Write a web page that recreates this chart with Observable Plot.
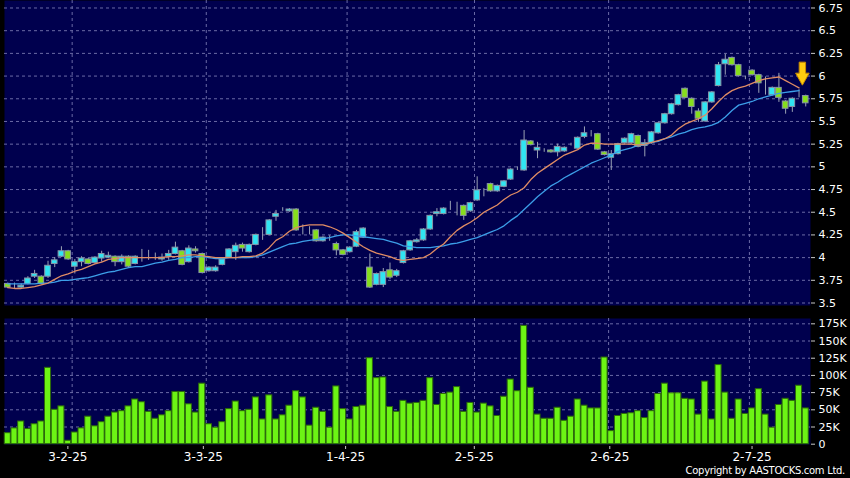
<!DOCTYPE html>
<html><head><meta charset="utf-8">
<script src="https://cdn.jsdelivr.net/npm/d3@7"></script>
<script src="https://cdn.jsdelivr.net/npm/@observablehq/plot@0.6"></script>
<style>
body{margin:0;background:#000;}
#wrap{position:relative;width:850px;height:478px;background:#000;overflow:hidden;font-family:"DejaVu Sans",sans-serif;}
.pane{position:absolute;left:0;}
#copy{position:absolute;right:5px;top:465px;color:#fff;font:10px "DejaVu Sans",sans-serif;letter-spacing:-0.3px;white-space:nowrap;}
</style></head><body>
<div id="wrap">
  <div id="price" class="pane" style="top:0"></div>
  <div id="vol" class="pane" style="top:318px"></div>
  <div id="axis" class="pane" style="top:444px"></div>
  <div id="copy">Copyright by AASTOCKS.com Ltd.</div>
</div>
<script>
// ---- data ----
const open  = [3.71,3.68,3.67,3.71,3.79,3.79,3.79,3.93,4.01,4.07, 3.90,3.95,3.98,3.94,3.99,4.00,4.01,3.95,4.01,3.93,
               4.01,4.03,4.01,3.98,4.01,4.04,4.07,3.95,4.09,4.04, 3.85,3.85,3.92,4.00,4.06,4.14,4.06,4.14,4.26,4.25,
               4.45,4.53,4.51,4.53,4.305,4.30,4.30,4.18,4.215,4.15, 4.08,4.06,4.12,4.22,3.89,3.70,3.70,3.86,3.80,3.94,
               4.08,4.17,4.19,4.31,4.48,4.48,4.57,4.57,4.57,4.51, 4.63,4.73,4.81,4.73,4.78,4.86,4.98,4.96,5.28,5.18,
               5.18,5.18,5.16,5.17,5.245,5.20,5.33,5.38,5.36,5.16, 5.10,5.14,5.26,5.26,5.34,5.23,5.26,5.37,5.48,5.58,
               5.68,5.86,5.75,5.61,5.50,5.71,5.89,6.13,6.20,6.12, 5.98,6.06,6.01,5.80,5.79,5.87,5.72,5.66,5.79,5.78];
const high  = [3.72,3.72,3.71,3.79,3.86,3.80,3.96,4.00,4.12,4.08, 3.98,4.01,3.99,4.01,4.07,4.06,4.02,4.03,4.02,4.02,
               4.09,4.08,4.05,4.04,4.08,4.17,4.08,4.13,4.12,4.05, 3.90,3.91,3.99,4.10,4.16,4.16,4.15,4.26,4.33,4.42,
               4.52,4.55,4.54,4.54,4.36,4.34,4.31,4.23,4.24,4.17, 4.09,4.12,4.30,4.33,4.04,3.83,3.88,3.94,3.87,4.08,
               4.19,4.21,4.32,4.47,4.54,4.55,4.62,4.61,4.58,4.61, 4.89,4.76,4.82,4.80,4.85,4.98,5.00,5.40,5.29,5.27,
               5.20,5.19,5.25,5.22,5.26,5.33,5.44,5.40,5.37,5.17, 5.18,5.26,5.32,5.37,5.35,5.30,5.39,5.49,5.59,5.70,
               5.80,5.87,5.76,5.64,5.72,5.83,6.15,6.24,6.21,6.13, 6.00,6.07,6.02,5.99,5.88,6.03,5.73,5.76,5.85,5.79];
const low   = [3.66,3.66,3.66,3.70,3.77,3.70,3.77,3.89,4.00,3.97, 3.82,3.90,3.92,3.93,3.95,3.99,3.90,3.92,3.89,3.92,
               3.95,3.97,3.97,3.96,3.97,4.03,3.91,3.94,4.05,3.82, 3.84,3.84,3.91,3.99,3.97,4.06,4.05,4.13,4.19,4.24,
               4.40,4.51,4.50,4.29,4.25,4.25,4.17,4.17,4.18,4.02, 4.02,4.05,4.11,4.21,3.66,3.69,3.67,3.76,3.78,3.93,
               4.07,4.16,4.18,4.30,4.45,4.47,4.52,4.46,4.41,4.50, 4.62,4.67,4.72,4.72,4.77,4.85,4.96,4.95,5.23,5.09,
               5.16,5.15,5.11,5.16,5.23,5.19,5.31,5.33,5.18,5.12, 4.96,5.13,5.25,5.25,5.21,5.11,5.25,5.36,5.47,5.57,
               5.67,5.75,5.58,5.49,5.49,5.70,5.88,6.01,6.11,5.99, 5.96,6.00,5.81,5.79,5.78,5.71,5.58,5.60,5.76,5.66];
const close = [3.67,3.68,3.69,3.77,3.82,3.71,3.91,3.97,4.07,3.98, 3.95,3.99,3.93,4.00,4.04,4.02,3.95,4.01,3.90,4.01,
               4.01,4.03,4.01,4.00,4.04,4.11,3.92,4.10,4.07,3.83, 3.89,3.89,3.98,4.09,4.13,4.10,4.14,4.25,4.26,4.41,
               4.48,4.53,4.53,4.30,4.305,4.30,4.18,4.22,4.215,4.08, 4.03,4.11,4.28,4.32,3.67,3.82,3.84,3.78,3.85,4.07,
               4.18,4.19,4.31,4.46,4.50,4.54,4.57,4.57,4.46,4.60, 4.74,4.73,4.73,4.79,4.84,4.97,4.98,5.29,5.24,5.21,
               5.18,5.16,5.22,5.21,5.245,5.32,5.37,5.38,5.19,5.13, 5.14,5.25,5.31,5.36,5.22,5.26,5.38,5.48,5.58,5.69,
               5.79,5.76,5.66,5.53,5.71,5.82,6.12,6.18,6.12,6.00, 5.98,6.01,5.92,5.80,5.87,5.76,5.64,5.75,5.79,5.70];
const volumeK = [16,23,33,22,29,33,111,50,55,5, 17,23,40,26,32,40,46,48,55,65, 61,47,37,42,48,76,76,58,46,88,
                 29,24,32,51,62,48,50,68,36,71, 36,42,56,77,68,27,53,47,24,84, 51,36,54,56,125,96,97,54,47,63,
                 59,60,63,96,57,73,75,83,47,60, 46,59,55,41,69,94,77,172,82,43, 37,37,53,34,40,65,56,52,52,126,
                 19,41,44,45,48,38,48,73,88,74, 74,66,65,43,91,36,115,75,37,65, 44,52,80,43,24,57,66,63,85,52];
const maShort = [3.67,3.66,3.66,3.67,3.68,3.70,3.72,3.76,3.80,3.82, 3.85,3.87,3.90,3.93,3.95,3.98,3.99,4.00,4.00,4.00,
                 4.00,4.00,4.00,4.00,4.01,4.01,4.02,4.03,4.03,4.02, 4.01,4.00,4.00,4.00,4.00,4.01,4.01,4.02,4.05,4.11,
                 4.19,4.23,4.29,4.33,4.35,4.36,4.36,4.36,4.34,4.31, 4.27,4.22,4.17,4.12,4.08,4.05,4.03,4.01,3.98,3.97,
                 3.98,3.99,4.00,4.04,4.10,4.15,4.23,4.30,4.35,4.39, 4.44,4.50,4.54,4.58,4.64,4.69,4.72,4.77,4.86,4.93,
                 4.98,5.03,5.08,5.13,5.16,5.19,5.24,5.26,5.26,5.25, 5.25,5.25,5.25,5.25,5.24,5.25,5.27,5.29,5.31,5.35,
                 5.42,5.47,5.50,5.53,5.57,5.64,5.72,5.79,5.84,5.87, 5.89,5.92,5.95,5.97,5.98,5.99,5.95,5.91,5.87,null];
const maLong  = [3.71,3.71,3.71,3.71,3.71,3.72,3.72,3.73,3.75,3.75, 3.76,3.77,3.78,3.80,3.82,3.84,3.85,3.87,3.89,3.90,
                 3.90,3.92,3.94,3.95,3.97,3.98,4.00,4.00,4.01,4.01, 4.00,3.99,3.99,4.00,4.00,4.00,4.00,4.01,4.03,4.06,
                 4.09,4.12,4.15,4.16,4.18,4.19,4.20,4.21,4.22,4.24, 4.25,4.25,4.24,4.23,4.22,4.21,4.20,4.18,4.16,4.13,
                 4.12,4.11,4.11,4.11,4.12,4.13,4.15,4.16,4.18,4.20, 4.22,4.25,4.28,4.31,4.35,4.41,4.46,4.53,4.60,4.67,
                 4.73,4.79,4.83,4.88,4.92,4.96,5.00,5.04,5.07,5.10, 5.13,5.17,5.19,5.21,5.24,5.25,5.27,5.28,5.31,5.33,
                 5.36,5.38,5.41,5.43,5.44,5.46,5.49,5.55,5.62,5.68, 5.70,5.72,5.75,5.77,5.79,5.81,5.82,5.83,5.84,null];
const monthTickIndex = [9, 29, 50, 69, 89, 110];
const monthTickLabels = ["3-2-25", "3-3-25", "1-4-25", "2-5-25", "2-6-25", "2-7-25"];
const priceTicks = [3.5, 3.75, 4, 4.25, 4.5, 4.75, 5, 5.25, 5.5, 5.75, 6, 6.25, 6.5, 6.75];
const volumeTicks = [0, 25, 50, 75, 100, 125, 150, 175];
const signal = [{index: 118.5, price: 5.9}];

// ---- styles ----
const NAVY = "#00004e", GRID = "#6a6aa6", CYAN = "#30e4f2", GREEN = "#86de1c",
      BODY_STROKE = "#8894a6", WICK = "#9aa2b4", ORANGE = "#e08c64", BLUE = "#3c9ee8",
      VOL_FILL = "#6cf414", VOL_STROKE = "#2c6a0a";
const N = close.length;
const idx = d3.range(N);
const xDomain = [-0.49, 119.71];       // bar space across the panels
const gridIdx = monthTickIndex.map(i => i + 0.6);
const candleFill = i => close[i] > open[i] ? CYAN : close[i] < open[i] ? GREEN : "#a0a8b8";
const baseStyle = {background: "transparent", color: "#fff", fontFamily: "DejaVu Sans, sans-serif", fontSize: "11px", overflow: "visible"};

const arrowSymbol = {
  draw(ctx) {
    ctx.moveTo(-3.2, -23); ctx.lineTo(3.2, -23); ctx.lineTo(3.2, -12); ctx.lineTo(6.8, -12);
    ctx.lineTo(0, 0); ctx.lineTo(-6.8, -12); ctx.lineTo(-3.2, -12); ctx.closePath();
  }
};

const price = Plot.plot({
  width: 850, height: 305, marginLeft: 4, marginRight: 40, marginTop: 0, marginBottom: 0,
  style: baseStyle,
  x: {domain: xDomain, axis: null},
  y: {domain: [3.4725, 6.8326], axis: null},
  marks: [
    Plot.frame({fill: NAVY, stroke: null}),
    Plot.ruleY(priceTicks, {stroke: GRID, strokeDasharray: "3,3", strokeWidth: 1}),
    Plot.ruleX(gridIdx, {stroke: GRID, strokeDasharray: "3,3", strokeWidth: 1}),
    Plot.ruleX(idx, {x: i => i, y1: i => low[i], y2: i => high[i], stroke: WICK, strokeWidth: 1}),
    Plot.rect(idx, {x1: i => i - 0.42, x2: i => i + 0.42, y1: i => open[i], y2: i => close[i],
                    fill: candleFill, stroke: BODY_STROKE, strokeWidth: 1}),
    Plot.line(idx, {x: i => i, y: i => maLong[i], stroke: BLUE, strokeWidth: 1.3}),
    Plot.line(idx, {x: i => i, y: i => maShort[i], stroke: ORANGE, strokeWidth: 1.3}),
    Plot.dot(signal, {x: "index", y: "price", symbol: arrowSymbol, r: 10, fill: "#ffcc10", stroke: "#c98a00", strokeWidth: 1}),
    Plot.axisY(priceTicks, {anchor: "right", tickSize: 4, tickPadding: 4, label: null, stroke: "#c8c8c8",
                            tickFormat: d => String(d), fill: "#fff", fontSize: 11})
  ]
});
document.getElementById("price").appendChild(price);

const vol = Plot.plot({
  width: 850, height: 126, marginLeft: 4, marginRight: 40, marginTop: 0, marginBottom: 0,
  style: baseStyle,
  x: {domain: xDomain, axis: null},
  y: {domain: [-0.44, 182.73], axis: null},
  marks: [
    Plot.frame({fill: NAVY, stroke: null}),
    Plot.ruleY(volumeTicks.filter(d => d > 0), {stroke: GRID, strokeDasharray: "3,3", strokeWidth: 1}),
    Plot.ruleX(gridIdx, {stroke: GRID, strokeDasharray: "3,3", strokeWidth: 1}),
    Plot.rectY(idx, {x1: i => i - 0.45, x2: i => i + 0.45, y1: 0, y2: i => volumeK[i],
                     fill: VOL_FILL, stroke: VOL_STROKE, strokeWidth: 1}),
    Plot.axisY(volumeTicks, {anchor: "right", tickSize: 4, tickPadding: 4, label: null, stroke: "#c8c8c8",
                             tickFormat: d => d === 0 ? "0" : d + "K", fill: "#fff", fontSize: 11})
  ]
});
document.getElementById("vol").appendChild(vol);

const axis = Plot.plot({
  width: 850, height: 34, marginLeft: 4, marginRight: 40, marginTop: 0, marginBottom: 32,
  style: baseStyle,
  x: {domain: [-0.354, 118.63], axis: null},
  marks: [
    Plot.axisX(monthTickIndex, {anchor: "bottom", tickSize: 3, tickPadding: 3, label: null, stroke: "#c8c8c8",
                                tickFormat: (d, i) => monthTickLabels[i], fill: "#fff", fontSize: 12})
  ]
});
document.getElementById("axis").appendChild(axis);
</script>
</body></html>
